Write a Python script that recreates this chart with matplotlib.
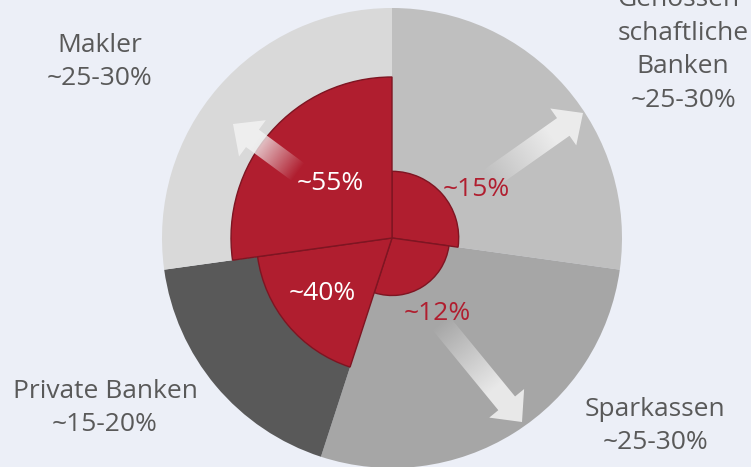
import numpy as np
import matplotlib.pyplot as plt
from matplotlib.patches import Wedge, Polygon

# segments clockwise from 12 o'clock
categories = ['Genossen-\nschaftliche\nBanken', 'Sparkassen', 'Private Banken', 'Makler']
ranges = ['~25-30%', '~25-30%', '~15-20%', '~25-30%']
outer_share = [27.2, 27.8, 17.8, 27.2]
outer_colors = ['#bfbfbf', '#a6a6a6', '#595959', '#d9d9d9']
inner_labels = ['~15%', '~12%', '~40%', '~55%']
inner_radius = [0.29, 0.25, 0.59, 0.70]

BG = '#eceff7'
RED = '#b01e2f'
GREY_TXT = '#595959'

W, H = 751, 467
CX, CY, R = 392, 238, 230


def px(x, y):
    # pixel position -> data coords (radius 1 = pie edge)
    return (x - CX) / R, (CY - y) / R


fig = plt.figure(figsize=(W / 100, H / 100), dpi=100)
fig.patch.set_facecolor(BG)
ax = fig.add_axes([0, 0, 1, 1])
ax.set_facecolor(BG)
ax.set_xlim(-CX / R, (W - CX) / R)
ax.set_ylim((CY - H) / R, CY / R)
ax.set_aspect('equal')
ax.axis('off')

plt.rcParams['font.family'] = ['Open Sans', 'DejaVu Sans']

# outer pie
ends = 90 - 360 * np.cumsum(outer_share) / np.sum(outer_share)
starts = np.concatenate([[90], ends[:-1]])
for s, e, c in zip(starts, ends, outer_colors):
    ax.add_patch(Wedge((0, 0), 1.0, e, s, facecolor=c, edgecolor='none', zorder=1))

# inner red sectors
for s, e, r in zip(starts, ends, inner_radius):
    ax.add_patch(Wedge((0, 0), r, e, s, facecolor=RED, edgecolor='#7e1522',
                       linewidth=1.0, zorder=2))


def gradient_arrow(tail, tip, shaft=0.047, head_w=0.098, head_l=0.105):
    tail = np.array(tail)
    tip = np.array(tip)
    d = tip - tail
    L = np.hypot(*d)
    u = d / L
    n = np.array([-u[1], u[0]])
    base = tip - u * head_l
    pts = [tail + n * shaft, base + n * shaft, base + n * head_w, tip,
           base - n * head_w, base - n * shaft, tail - n * shaft]
    pts = np.array(pts)
    poly = Polygon(pts, closed=True, facecolor='none', edgecolor='none')
    ax.add_patch(poly)
    x0, y0 = pts.min(axis=0)
    x1, y1 = pts.max(axis=0)
    xs = np.linspace(x0, x1, 200)
    ys = np.linspace(y0, y1, 200)
    gx, gy = np.meshgrid(xs, ys)
    t = ((gx - tail[0]) * u[0] + (gy - tail[1]) * u[1]) / L
    t = np.clip(t, 0, 1)
    img = np.zeros((200, 200, 4))
    img[..., 0] = 0.95
    img[..., 1] = 0.95
    img[..., 2] = 0.95
    img[..., 3] = np.clip(t * 1.5, 0, 1) * 0.88
    im = ax.imshow(img, extent=(x0, x1, y0, y1), origin='lower', zorder=3,
                   interpolation='bilinear')
    im.set_clip_path(poly)


gradient_arrow(px(488, 180), px(583, 113))
gradient_arrow(px(440, 322), px(522, 422))
gradient_arrow(px(298, 172), px(233, 124))

# value labels
FS = 19
ax.text(*px(330, 183), inner_labels[3], color='white', fontsize=FS, ha='center', va='center', zorder=4)
ax.text(*px(322, 294), inner_labels[2], color='white', fontsize=FS, ha='center', va='center', zorder=4)
ax.text(*px(476, 190), inner_labels[0], color=RED, fontsize=FS, ha='center', va='center', zorder=4)
ax.text(*px(437, 314), inner_labels[1], color=RED, fontsize=FS, ha='center', va='center', zorder=4)

# category labels
label_pos = [(683, 50), (655, 426), (105, 408), (100, 62)]
for name, rng, (x, y) in zip(categories, ranges, label_pos):
    ax.text(*px(x, y), name + '\n' + rng, color=GREY_TXT, fontsize=FS, ha='center',
            va='center', linespacing=1.45, zorder=4)

fig.savefig('out.png', dpi=100, facecolor=BG)
